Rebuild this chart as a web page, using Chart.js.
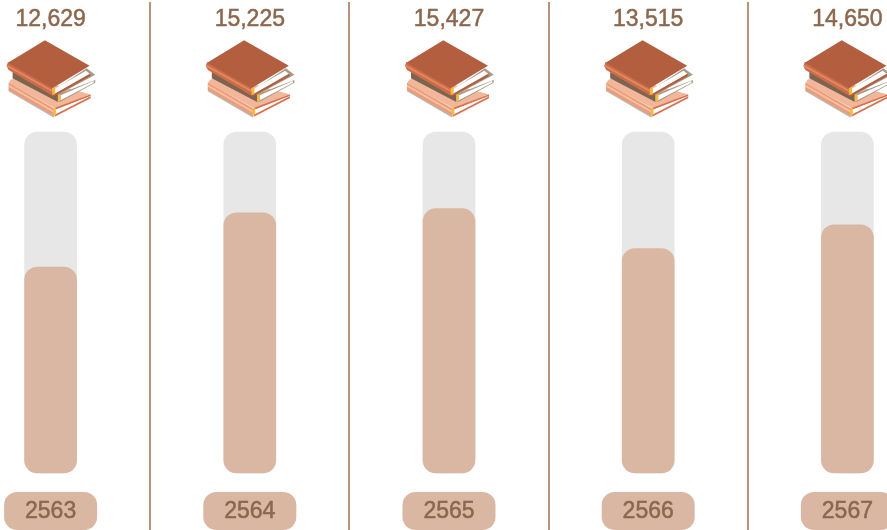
<!DOCTYPE html>
<html>
<head>
<meta charset="utf-8">
<title>chart</title>
<script src="https://cdn.jsdelivr.net/npm/chart.js@4"></script>
<style>
  html, body { margin: 0; padding: 0; background: #fff; overflow: hidden; width: 887px; height: 530px; }
  #wrap { position: absolute; left: 0; top: 0; width: 887px; height: 530px; overflow: hidden; }
  /* last column runs off the right edge in the original, so the canvas is wider than the page */
  #chart { position: absolute; left: -49px; top: 0; }
</style>
</head>
<body>
<div id="wrap"><canvas id="chart" width="996" height="530"></canvas></div>
<script>
const years = ['2563', '2564', '2565', '2566', '2567'];
const values = [12629, 15225, 15427, 13515, 14650];

// bottom and top of the grey track, in data units
const trackMin = 2750;
const trackMax = 19100;

const fillColor = '#d9b7a3';
const trackColor = '#e7e7e7';
const textColor = '#8c674e';
const lineColor = '#b8937c';
const labelFont = '23px "Liberation Sans", Arial, sans-serif';

// book icon: polygons in 3x pixels, around the column centre at x=150
const bookParts = [
  // bottom book
  ['#b9b6b0', [[24,266],[160,345],[160,353],[24,274]]],
  ['#f2b79a', [[30,240],[60,225],[268,283],[166,326],[24,250]]],
  ['#ee9c78', [[24,248],[160,325],[160,347],[24,270]]],
  ['#f6c3a8', [[24,254],[160,332],[160,338],[24,260]]],
  ['#d9714f', [[164,323],[270,283],[270,289],[164,329]]],
  ['#ffffff', [[166,329],[268,289],[268,292],[166,344]]],
  ['#d9714f', [[162,344],[270,289],[270,295],[162,350]]],
  ['#f8b840', [[158,325],[166,322],[166,345],[158,347]]],
  // middle book
  ['#7d6450', [[36,212],[172,283],[172,306],[36,235]]],
  ['#a89a8a', [[172,283],[284,240],[284,248],[178,306],[172,306]]],
  ['#ffffff', [[180,286],[279,243],[280,248],[180,301]]],
  ['#f8b840', [[172,285],[180,282],[180,303],[172,306]]],
  // top book
  ['#a89a8a', [[258,205],[284,224],[170,285],[160,270]]],
  ['#ffffff', [[160,268],[256,212],[268,222],[162,283]]],
  ['#b35f3f', [[157,284],[268,221],[270,228],[157,291]]],
  ['#cf6c48', [[22,186],[155,262],[157,288],[24,210],[18,198]]],
  ['#e08a66', [[20,194],[155,270],[155,276],[20,200]]],
  ['#b35f3f', [[133,121],[267,197],[155,265],[22,188]]],
  ['#f8b840', [[155,265],[164,262],[164,283],[155,285]]]
];

function drawBook(ctx, cx, top) {
  ctx.save();
  ctx.translate(cx - 50, top - 40);
  ctx.scale(1 / 3, 1 / 3);
  bookParts.forEach(function (part) {
    ctx.fillStyle = part[0];
    ctx.beginPath();
    part[1].forEach(function (p, i) {
      if (i === 0) ctx.moveTo(p[0], p[1]);
      else ctx.lineTo(p[0], p[1]);
    });
    ctx.closePath();
    ctx.fill();
  });
  ctx.restore();
}

function drawLabel(ctx, text, x, y) {
  ctx.fillStyle = textColor;
  ctx.strokeStyle = textColor;
  ctx.lineWidth = 0.5;
  ctx.fillText(text, x, y);
  ctx.strokeText(text, x, y);
}

// value on top, book icon, year pill at the bottom
const columnDecor = {
  id: 'columnDecor',
  afterDatasetsDraw(chart) {
    const ctx = chart.ctx;
    const xScale = chart.scales.x;
    ctx.save();
    ctx.font = labelFont;
    ctx.textAlign = 'center';
    ctx.textBaseline = 'middle';
    years.forEach(function (year, i) {
      const cx = xScale.getPixelForValue(i);
      drawLabel(ctx, values[i].toLocaleString('en-US'), cx, 20);
      drawBook(ctx, cx, 40);
      ctx.fillStyle = fillColor;
      ctx.beginPath();
      ctx.roundRect(cx - 46.5, 492, 93, 38, 13);
      ctx.fill();
      drawLabel(ctx, year, cx, 512);
    });
    ctx.restore();
  }
};

new Chart(document.getElementById('chart'), {
  type: 'bar',
  data: {
    labels: years,
    datasets: [
      {
        label: 'fill',
        data: values.map(v => [trackMin, v]),
        backgroundColor: fillColor,
        borderRadius: 13,
        borderSkipped: false,
        barThickness: 52,
        grouped: false
      },
      {
        label: 'track',
        data: values.map(() => [trackMin, trackMax]),
        backgroundColor: trackColor,
        borderRadius: 13,
        borderSkipped: false,
        barThickness: 52,
        grouped: false
      }
    ]
  },
  options: {
    responsive: false,
    animation: false,
    layout: { padding: { top: 2, left: 0, right: 0, bottom: 0 } },
    plugins: { legend: { display: false }, tooltip: { enabled: false } },
    scales: {
      x: {
        ticks: { display: false },
        border: { display: false },
        grid: { color: lineColor, lineWidth: 2, drawTicks: false, offset: true }
      },
      y: {
        display: false,
        // extends past the track so the dividers run the full height
        min: 14,
        max: 25340
      }
    }
  },
  plugins: [columnDecor]
});
</script>
</body>
</html>
